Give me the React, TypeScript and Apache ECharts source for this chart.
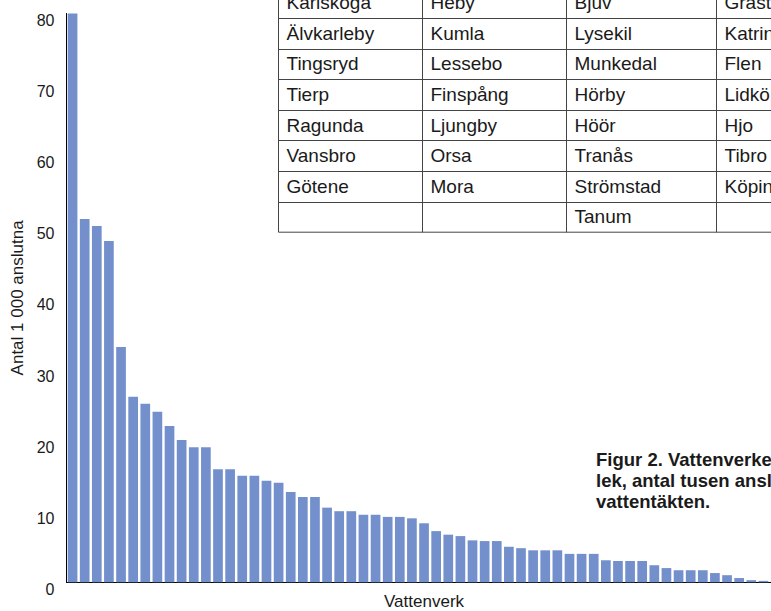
import React, { useEffect, useRef } from "react";
import * as echarts from "echarts";

const values: number[] = [
  95, 51.1, 50.1, 48.0, 33.1, 26.1, 25.1, 24.0, 22.0, 20.0, 19.0, 19.0, 15.9, 15.9, 15.0,
  15.0, 14.3, 14.0, 12.7, 12.0, 12.0, 10.5, 10.0, 10.0, 9.5, 9.5, 9.2, 9.2, 9.0, 8.3,
  7.2, 6.7, 6.5, 5.9, 5.8, 5.8, 5.0, 4.8, 4.5, 4.5, 4.5, 4.0, 4.0, 4.0, 3.1,
  3.0, 3.0, 3.0, 2.4, 2.0, 1.7, 1.7, 1.7, 1.3, 1.0, 0.6, 0.3, 0.2, 0.1,
];
const categories: string[] = values.map((_, i) => `Vattenverk ${i + 1}`);

const tableCol1: string[] = ["Karlskoga", "Älvkarleby", "Tingsryd", "Tierp", "Ragunda", "Vansbro", "Götene", ""];
const tableCol2: string[] = ["Heby", "Kumla", "Lessebo", "Finspång", "Ljungby", "Orsa", "Mora", ""];
const tableCol3: string[] = ["Bjuv", "Lysekil", "Munkedal", "Hörby", "Höör", "Tranås", "Strömstad", "Tanum"];
const tableCol4: string[] = ["Grästorp", "Katrineholm", "Flen", "Lidköping", "Hjo", "Tibro", "Köping", ""];
const tableColumns: string[][] = [tableCol1, tableCol2, tableCol3, tableCol4];

const captionLines: string[] = [
  "Figur 2. Vattenverkens stor-",
  "lek, antal tusen anslutna till",
  "vattentäkten.",
];

const FONT = "'Liberation Sans', Arial, Helvetica, sans-serif";

export default function App() {
  const ref = useRef<HTMLDivElement>(null);

  useEffect(() => {
    if (!ref.current) return;
    const chart = echarts.init(ref.current, undefined, { renderer: "svg" });

    const colX = [278.5, 422.5, 566.5, 716.5, 866.5];
    const rowH = 30.6;
    const rowTop0 = 18 - rowH;
    const nRows = 8;
    const tableBottom = rowTop0 + rowH * nRows;
    const lineColor = "#444";

    const graphics: any[] = [];
    graphics.push({
      type: "rect",
      shape: { x: colX[0], y: rowTop0, width: colX[4] - colX[0], height: rowH * nRows },
      style: { fill: "#fff", stroke: lineColor, lineWidth: 1 },
      z: 10,
    });
    for (let r = 1; r < nRows; r++) {
      const y = Math.round(rowTop0 + r * rowH) + 0.5;
      graphics.push({
        type: "line",
        shape: { x1: colX[0], y1: y, x2: colX[4], y2: y },
        style: { stroke: lineColor, lineWidth: 1 },
        z: 11,
      });
    }
    for (let c = 1; c < 4; c++) {
      graphics.push({
        type: "line",
        shape: { x1: colX[c], y1: rowTop0, x2: colX[c], y2: tableBottom },
        style: { stroke: lineColor, lineWidth: 1 },
        z: 11,
      });
    }
    tableColumns.forEach((col, c) => {
      col.forEach((name, r) => {
        if (!name) return;
        graphics.push({
          type: "text",
          x: colX[c] + 8,
          y: rowTop0 + r * rowH + rowH / 2,
          style: {
            text: name,
            fontSize: 19,
            fontFamily: FONT,
            fill: "#1a1a1a",
            align: "left",
            verticalAlign: "middle",
          },
          z: 12,
        });
      });
    });
    captionLines.forEach((line, i) => {
      graphics.push({
        type: "text",
        x: 596,
        y: 459 + i * 21,
        style: {
          text: line,
          fontSize: 18.5,
          fontWeight: "bold",
          fontFamily: FONT,
          fill: "#1a1a1a",
          align: "left",
          verticalAlign: "middle",
        },
        z: 12,
      });
    });

    chart.setOption({
      animation: false,
      backgroundColor: "#ffffff",
      grid: {
        left: 66.5,
        top: 13.5,
        width: values.length * 12.12,
        height: 568.8,
        containLabel: false,
        outerBoundsMode: "none",
      },
      xAxis: {
        type: "category",
        data: categories,
        name: "Vattenverk",
        nameLocation: "middle",
        nameGap: 11,
        nameTextStyle: { fontSize: 17, fontFamily: FONT, color: "#1a1a1a", verticalAlign: "top" },
        axisLine: { show: true, lineStyle: { color: "#000", width: 1 } },
        axisTick: { show: false },
        axisLabel: { show: false },
        splitLine: { show: false },
      },
      yAxis: {
        type: "value",
        min: 0,
        max: 80,
        interval: 10,
        name: "Antal 1 000 anslutna",
        nameLocation: "middle",
        nameGap: 36,
        nameTextStyle: { fontSize: 17, fontFamily: FONT, color: "#1a1a1a" },
        axisLine: { show: true, lineStyle: { color: "#000", width: 1 } },
        axisTick: { show: false },
        splitLine: { show: false },
        axisLabel: {
          fontSize: 16,
          fontFamily: FONT,
          color: "#1a1a1a",
          margin: 12,
          verticalAlign: "top",
          lineHeight: 14,
        },
      },
      series: [
        {
          type: "bar",
          data: values,
          barCategoryGap: "20%",
          clip: true,
          itemStyle: { color: "#7490CC" },
        },
      ],
      graphic: graphics,
    });

    return () => chart.dispose();
  }, []);

  return (
    <div
      ref={ref}
      style={{ position: "fixed", left: 0, top: 0, width: 771, height: 611, background: "#fff" }}
    />
  );
}
